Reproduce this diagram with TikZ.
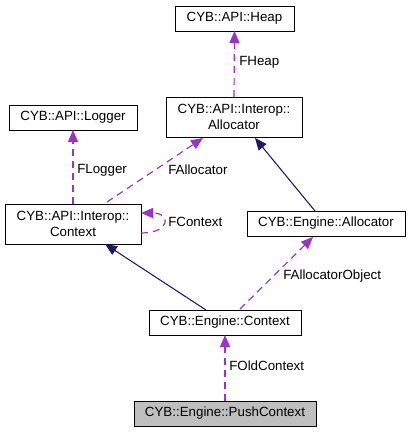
\documentclass[tikz,border=0pt]{standalone}
\usepackage{fontspec}
\setmainfont{Liberation Sans}
\usetikzlibrary{arrows.meta,calc}
\definecolor{refcol}{HTML}{9A32CD}
\definecolor{inhcol}{HTML}{191970}
\definecolor{focus}{HTML}{BFBFBF}
\begin{document}
\begin{tikzpicture}[x=0.75pt,y=-0.75pt,
  box/.style={draw=black,line width=0.75pt,inner sep=0pt,outer sep=0pt,minimum height=18.75pt,align=center,font=\fontsize{10pt}{12pt}\selectfont},
  ref/.style={draw=refcol,line width=0.9pt,dash pattern=on 5.25pt off 3.75pt,-{Triangle[length=9pt,width=7.5pt,fill=refcol]}},
  inh/.style={draw=inhcol,line width=0.8pt,-{Triangle[length=9pt,width=7.5pt,fill=inhcol]}},
  lbl/.style={inner sep=0pt,anchor=west,font=\fontsize{10pt}{12pt}\selectfont}]
\useasboundingbox (0,0) rectangle (411,432);
\node[box,minimum width=89.25pt] (heap) at (234.5,18.5) {CYB::API::Heap};
\node[box,minimum width=102pt,minimum height=30pt] (ialloc) at (234,117) {CYB::API::Interop::\\Allocator};
\node[box,minimum width=96pt] (logger) at (73,117.5) {CYB::API::Logger};
\node[box,minimum width=102pt,minimum height=30pt] (ictx) at (73,224) {CYB::API::Interop::\\Context};
\node[box,minimum width=118.5pt] (ealloc) at (326,223.5) {CYB::Engine::Allocator};
\node[box,minimum width=114pt] (ectx) at (225,322.5) {CYB::Engine::Context};
\node[box,minimum width=136.5pt,fill=focus] (push) at (225,413.5) {CYB::Engine::PushContext};
% connectors
\draw[ref] (ialloc.north) -- (heap.south);
\node[lbl] (lheap) at (239,62) {FHeap};
\draw[ref] (ictx.north) -- (logger.south);
\node[lbl] (llogger) at (77,170) {FLogger};
\draw[ref] ($(ictx.north)+(34,-2)$) -- ($(ialloc.south)+(-31,1)$);
\node[lbl] (lalloc) at (168,170) {FAllocator};
\draw[inh] ($(ealloc.north)+(-11,0)$) -- ($(ialloc.south)+(21,1)$);
\draw[ref] ($(ictx.east)+(0,9)$) .. controls ($(ictx.east)+(30,9)$) and ($(ictx.east)+(30,-11)$) .. ($(ictx.east)+(0,-11)$);
\node[lbl] (lctx) at (168,222) {FContext};
\draw[inh] ($(ectx.north)+(-19,0)$) -- ($(ictx.south)+(32,0)$);
\draw[ref] ($(ectx.north)+(15,-1)$) -- ($(ealloc.south)+(-13,1)$);
\node[lbl] (lallocobj) at (283,276) {FAllocatorObject};
\draw[ref] (push.north) -- (ectx.south);
\node[lbl] (lold) at (229,366) {FOldContext};
\end{tikzpicture}
\end{document}
